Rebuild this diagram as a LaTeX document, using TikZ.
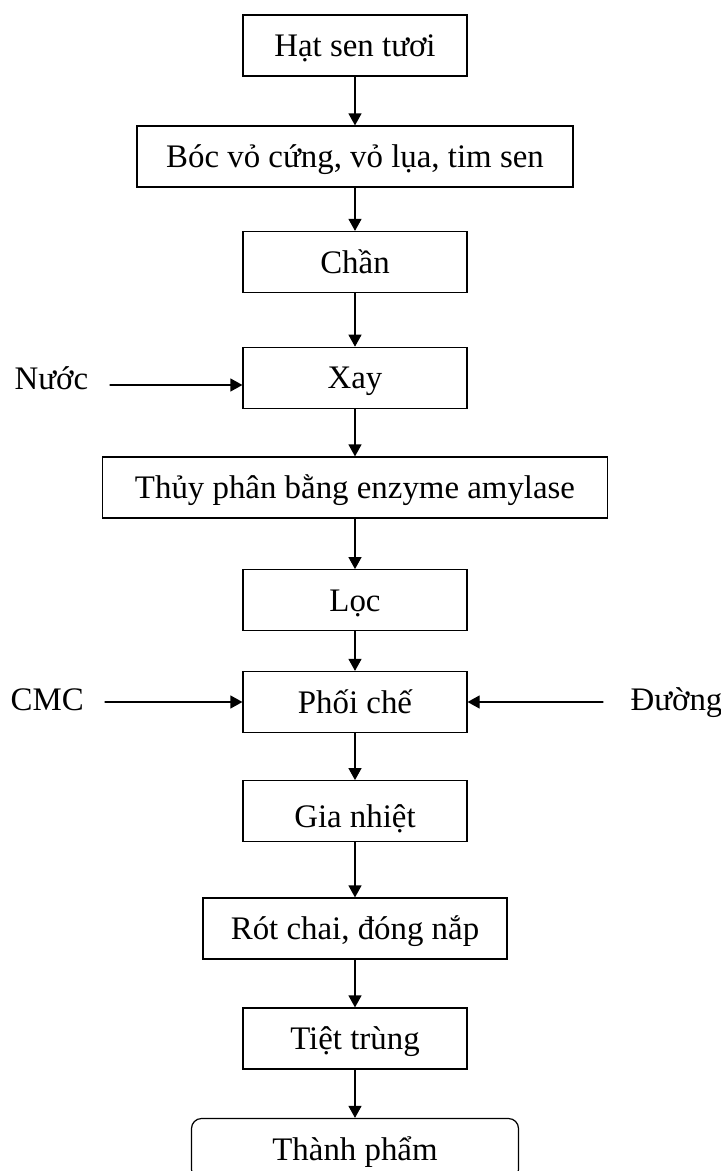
\documentclass[tikz,border=0pt]{standalone}
\usepackage{fontspec}
\setmainfont{Liberation Serif}
\usetikzlibrary{arrows.meta}

\begin{document}
\begin{tikzpicture}[line cap=round,>={Triangle[length=12bp,width=13bp]},x=1bp,y=-1bp, line width=1.2bp, stepbox/.style={draw, rectangle, minimum width=224bp, minimum height=61bp, inner sep=0pt, text height=29bp, text depth=7bp, font=\fontsize{33}{40}\selectfont}, sidetext/.style={anchor=base west, inner sep=0pt, font=\fontsize{33}{40}\selectfont}]
                        \useasboundingbox (0,0) rectangle (721,1171);
                        \clip (0,0) rectangle (721,1171);

                        \node[stepbox] (hat) at (355,45.5) {Hạt sen tươi};
                        \node[stepbox, minimum width=436bp] (boc) at (355,156.5) {Bóc vỏ cứng, vỏ lụa, tim sen};
                        \node[stepbox] (chan) at (355,262) {Chần};
                        \node[stepbox] (xay) at (355,377.8) {Xay};
                        \node[stepbox, minimum width=505bp] (thuy) at (355,487.5) {Thủy phân bằng enzyme amylase};
                        \node[stepbox] (loc) at (355,600.2) {Lọc};
                        \node[stepbox] (phoi) at (355,702) {Phối chế};
                        \node[stepbox, text height=40bp] (gia) at (355,811.2) {Gia nhiệt};
                        \node[stepbox, minimum width=304bp] (rot) at (355,928.5) {Rót chai, đóng nắp};
                        \node[stepbox] (tiet) at (355,1038.5) {Tiệt trùng};
                        \node[stepbox, rounded corners=10bp, minimum width=327bp] (thanh) at (355,1149) {Thành phẩm};

                        \draw [->] (hat) -- (boc);
                        \draw [->] (boc) -- (chan);
                        \draw [->] (chan) -- (xay);
                        \draw [->] (xay) -- (thuy);
                        \draw [->] (thuy) -- (loc);
                        \draw [->] (loc) -- (phoi);
                        \draw [->] (phoi) -- (gia);
                        \draw [->] (gia) -- (rot);
                        \draw [->] (rot) -- (tiet);
                        \draw [->] (tiet) -- (thanh);

                        \node[sidetext] (nuoc) at (14,389) {Nước};
                        \coordinate (nuoc-in) at (110,385);
                        \draw [->] (nuoc-in) -- (nuoc-in -| xay.west);

                        \node[sidetext] (cmc) at (10,710) {CMC};
                        \coordinate (cmc-in) at (105,702);
                        \draw [->] (cmc-in) -- (cmc-in -| phoi.west);

                        \node[sidetext] (duong) at (630,710) {Đường};
                        \coordinate (duong-in) at (603,702);
                        \draw [->] (duong-in) -- (duong-in -| phoi.east);
\end{tikzpicture}
\end{document}
